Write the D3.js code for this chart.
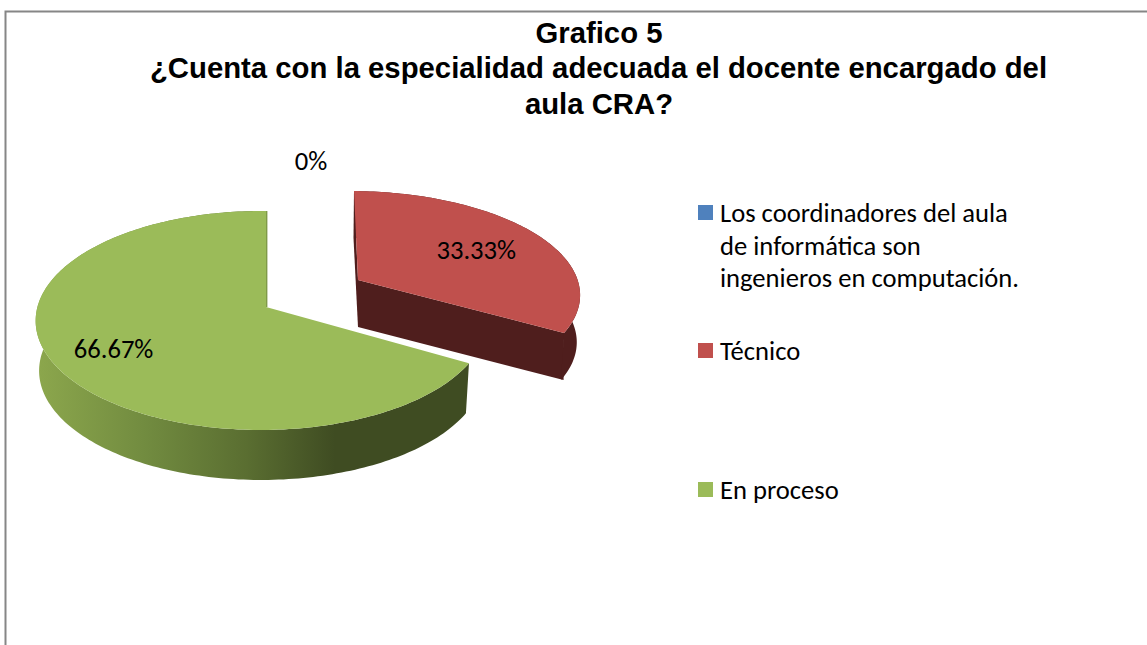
<!DOCTYPE html>
<html><head><meta charset="utf-8">
<script src="https://cdn.jsdelivr.net/npm/d3@7"></script>
<style>html,body{margin:0;padding:0;background:#fff}svg{display:block}</style>
</head><body><svg id="c" width="1147" height="645"></svg>
<script>
const titleLines = ["Grafico 5","¿Cuenta con la especialidad adecuada el docente encargado del","aula CRA?"];
const categories = ["Los coordinadores del aula de informática son ingenieros en computación.","Técnico","En proceso"];
const legendLines = [["Los coordinadores del aula","de informática son","ingenieros en computación."],["Técnico"],["En proceso"]];
const values = [0,33.33,66.67];
const valueLabels = ["0%","33.33%","66.67%"];
const colors = ["#4f81bd","#c0504d","#9bbb59"];

const svg = d3.select("#c");
const defs = svg.append("defs");
const grad = defs.append("linearGradient").attr("id","gw").attr("gradientUnits","userSpaceOnUse")
  .attr("x1",40).attr("x2",335).attr("y1",0).attr("y2",0);
[[0,"#8ba64c"],[0.35,"#728c40"],[0.7,"#5a6e31"],[1,"#3f4c22"]].forEach(s=>grad.append("stop").attr("offset",s[0]).attr("stop-color",s[1]));

svg.append("path").attr("d","M5.5 645V11.5H1147").attr("fill","none").attr("stroke","#868686").attr("stroke-width",2);

const apex = {x:266,y:307};
const geom = [null,
  {o:[92,-27],RY:100.8,K:0.133,skew:4,depth:47},
  {o:[0,0],RY:107.8,K:0.123,skew:0,depth:50}];
const RX=224, A=0.02;
function project(theta,r,g,bottom){
  const u=Math.sin(theta)*r, v=-Math.cos(theta)*r, w=1-g.K*v+A*u;
  const f=bottom?0.985:1;
  return [apex.x+g.o[0]+RX*f*u/w+g.skew*v, apex.y+g.o[1]+g.RY*v/w+(bottom?g.depth:0)];
}
const line=d3.line();
const slices=d3.pie().sort(null).value(d=>d)(values);
function samples(a,b){const n=Math.max(2,Math.ceil(Math.abs(b-a)/0.02));return d3.range(n+1).map(i=>a+(b-a)*i/n);}

slices.forEach((s,i)=>{
  if(s.value===0) return;
  const c=geom[i], g=svg.append("g");
  const arc=samples(s.startAngle,s.endAngle);
  const outer=arc.map(t=>project(t,1,c,false));
  const outerB=arc.map(t=>project(t,1,c,true)).reverse();
  const wallFill=i===2?"url(#gw)":"#4f1e1d";
  const cut=a=>[project(a,0,c,false),project(a,1,c,false),[project(a,1,c,false)[0]-0.5,project(a,1,c,true)[1]],project(a,0,c,true)];
  if(i===1){
    g.append("path").attr("d",line(cut(s.startAngle))+"Z").attr("fill","#4f1e1d");
    g.append("path").attr("d",line(cut(s.endAngle))+"Z").attr("fill","#4f1e1d");
  }
  g.append("path").attr("d",line(outer.concat(outerB))+"Z").attr("fill",wallFill);
  g.append("path").attr("d",line([project(s.startAngle,0,c,false)].concat(outer))+"Z").attr("fill",colors[i]);
  if(i===2){
    g.append("path").attr("d",line([project(s.endAngle,1,c,false),project(s.endAngle,0,c,false)])).attr("fill","none").attr("stroke","#7f9a48").attr("stroke-width",1.4).attr("transform","translate(0.7,0)");
  }
});

const labelR=[null,0.65,0.74];
const zeroLabelAt={x:311,y:161};
const fLabel="Carlito,Calibri,Lato,'Open Sans',sans-serif";
slices.forEach((s,i)=>{
  const mid=(s.startAngle+s.endAngle)/2;
  const p=s.value===0?[zeroLabelAt.x,zeroLabelAt.y]:project(mid,labelR[i],geom[i],false);
  svg.append("text").attr("x",p[0]).attr("y",p[1]+(i===1?10:9)).attr("text-anchor","middle")
    .attr("font-family",fLabel).attr("font-size",26.6).attr("fill","#000").text(valueLabels[i]);
});

svg.selectAll("text.t").data(titleLines).enter().append("text").attr("class","t")
  .attr("x",(d,i)=>i===1?598.5:599).attr("y",(d,i)=>43+i*35.3).attr("text-anchor","middle")
  .attr("font-family","'Liberation Sans',Arial,sans-serif").attr("font-weight","bold").attr("font-size",29.3).attr("fill","#000").text(d=>d);

const legendY=d3.scaleOrdinal().domain(categories).range([205,343,482]);
const lg=svg.selectAll("g.l").data(categories).enter().append("g").attr("class","l");
lg.append("rect").attr("x",698).attr("y",d=>legendY(d)).attr("width",15).attr("height",15).attr("fill",(d,i)=>colors[i]);
lg.each(function(d,i){
  d3.select(this).selectAll("text").data(legendLines[i]).enter().append("text")
    .attr("x",720).attr("y",(t,j)=>legendY(d)+17+j*32.5)
    .attr("font-family",fLabel).attr("font-size",26.6).attr("fill","#000").text(t=>t);
});
</script></body></html>
